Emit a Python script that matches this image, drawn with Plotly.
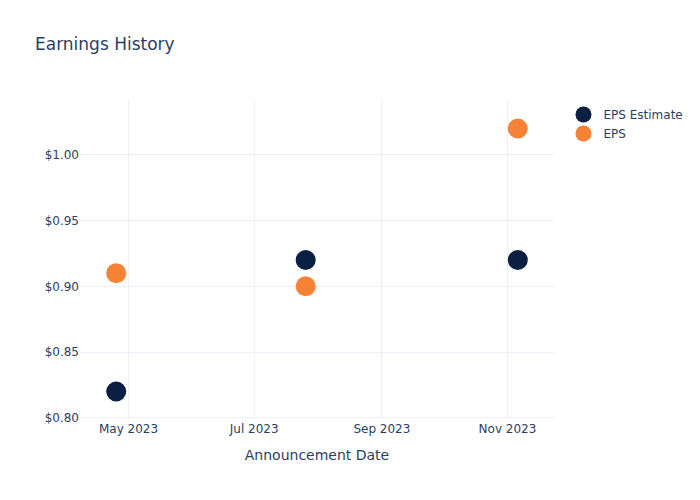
import plotly.graph_objects as go

dates = ["2023-04-25", "2023-07-26", "2023-11-06"]
eps_estimate = [0.82, 0.92, 0.92]
eps_actual = [0.91, 0.90, 1.02]

fig = go.Figure()
fig.add_trace(go.Scatter(x=dates, y=eps_estimate, mode="markers", name="EPS Estimate",
                         marker=dict(size=20, color="#0b1f42")))
fig.add_trace(go.Scatter(x=dates, y=eps_actual, mode="markers", name="EPS",
                         marker=dict(size=20, color="#f58235")))
fig.update_layout(
    template="plotly_white",
    width=700, height=500,
    font=dict(family="DejaVu Sans"),
    title=dict(text="Earnings History"),
    xaxis=dict(title=dict(text="Announcement Date"), dtick="M2", tickformat="%b %Y"),
    yaxis=dict(tickprefix="$", tickformat=".2f"),
)
fig.write_html("out.html")
